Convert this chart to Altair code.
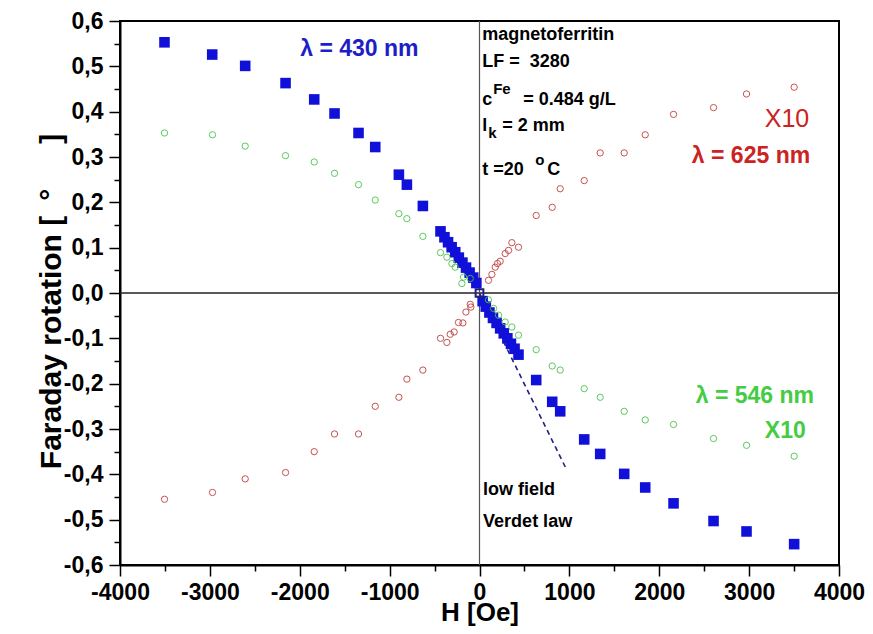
import altair as alt
import pandas as pd

# ---- data ----
# lambda = 430 nm (blue squares)
blue_h = [-3505, -2974, -2607, -2158, -1839, -1613, -1346, -1160, -897, -808, -630,
          -434, -390, -350, -310, -270, -230, -190, -150, -110, -70, -35,
          35, 70, 110, 150, 190, 230, 270, 310, 350, 390, 434,
          631, 809, 898, 1165, 1343, 1610, 1844, 2159, 2604, 2971, 3501]
blue_rot = [0.553, 0.526, 0.501, 0.463, 0.427, 0.396, 0.353, 0.322, 0.261, 0.239, 0.192,
            0.136, 0.123, 0.112, 0.101, 0.090, 0.078, 0.067, 0.056, 0.045, 0.034, 0.022,
            -0.018, -0.030, -0.043, -0.055, -0.066, -0.078, -0.089, -0.100, -0.112, -0.123, -0.136,
            -0.192, -0.240, -0.261, -0.323, -0.355, -0.399, -0.429, -0.464, -0.503, -0.526, -0.554]

# lambda = 546 nm (green circles, x10)
green_h = [-3505, -2971, -2607, -2158, -1839, -1613, -1346, -1160, -897, -808, -630,
           -434, -363, -307, -270, -196, -178, -103,
           100, 157, 212, 286, 360, 434,
           631, 809, 898, 1165, 1343, 1610, 1844, 2159, 2604, 2971, 3501]
green_rot = [0.353, 0.349, 0.324, 0.303, 0.289, 0.264, 0.239, 0.205, 0.175, 0.164, 0.125,
             0.089, 0.079, 0.065, 0.057, 0.021, 0.035, 0.032,
             -0.015, -0.034, -0.049, -0.064, -0.075, -0.093,
             -0.125, -0.161, -0.170, -0.211, -0.230, -0.261, -0.280, -0.290, -0.321, -0.336, -0.360]

# lambda = 625 nm (red circles, x10)
red_h = [-3505, -2971, -2607, -2158, -1839, -1613, -1346, -1160, -897, -808, -630,
         -434, -363, -326, -282, -234, -185, -151, -103, -96,
         100, 138, 175, 200, 230, 286, 323, 360, 434,
         631, 809, 898, 1165, 1343, 1610, 1844, 2159, 2604, 2971, 3501]
red_rot = [-0.455, -0.440, -0.410, -0.396, -0.350, -0.311, -0.311, -0.250, -0.230, -0.190, -0.170,
           -0.100, -0.109, -0.091, -0.086, -0.065, -0.066, -0.042, -0.025, -0.031,
           0.028, 0.041, 0.057, 0.065, 0.070, 0.087, 0.094, 0.111, 0.101,
           0.171, 0.189, 0.230, 0.248, 0.309, 0.309, 0.349, 0.394, 0.409, 0.439, 0.454]

origin_h = [0]
origin_rot = [0]

# low-field Verdet law (dashed line)
verdet_h = [0, 970]
verdet_rot = [0.0, -0.390]

x_ticks = [-4000 + 500 * i for i in range(17)]
y_ticks = [round(-0.6 + 0.05 * i, 2) for i in range(25)]

FONT = "Liberation Sans"

xscale = alt.Scale(domain=[-4000, 4000], nice=False, zero=False)
yscale = alt.Scale(domain=[-0.6, 0.6], nice=False, zero=False)

xaxis = alt.Axis(
    values=x_ticks, title="H [Oe]", grid=False,
    labelExpr="datum.value % 1000 === 0 ? replace(format(datum.value, 'd'), '\u2212', '-') : ''",
    tickSize={"condition": {"test": "datum.value % 1000 === 0", "value": 11}, "value": 6},
    labelFont=FONT, labelFontSize=23, labelFontWeight="bold", labelColor="black",
    labelPadding=5, labelFlush=False, labelOverlap=False,
    titleFont=FONT, titleFontSize=26, titleFontWeight="bold", titleColor="black",
    titleBaseline="alphabetic", titleY=55,
    domainColor="black", domainWidth=2, tickColor="black", tickWidth=1.5,
)
yaxis = alt.Axis(
    values=y_ticks, title="Faraday rotation [\u2002\u00b0\u2003\u2002]", grid=False,
    labelExpr="abs(round(datum.value*20)) % 2 === 0 ? replace(replace(format(datum.value, '.1f'), '.', ','), '\u2212', '-') : ''",
    tickSize={"condition": {"test": "abs(round(datum.value*20)) % 2 === 0", "value": 11}, "value": 6},
    labelFont=FONT, labelFontSize=23, labelFontWeight="bold", labelColor="black",
    labelPadding=6, labelFlush=False, labelOverlap=False,
    titleFont=FONT, titleFontSize=30, titleFontWeight="bold", titleColor="black",
    titleBaseline="alphabetic", titleX=-60, titleY=280,
    domainColor="black", domainWidth=2, tickColor="black", tickWidth=1.5,
)


def X():
    return alt.X("h:Q", scale=xscale, axis=xaxis)


def Y():
    return alt.Y("rot:Q", scale=yscale, axis=yaxis)


blue_df = pd.DataFrame({"h": blue_h, "rot": blue_rot})
green_df = pd.DataFrame({"h": green_h, "rot": green_rot})
red_df = pd.DataFrame({"h": red_h, "rot": red_rot})
origin_df = pd.DataFrame({"h": origin_h, "rot": origin_rot})
verdet_df = pd.DataFrame({"h": verdet_h, "rot": verdet_rot})

zero_h = alt.Chart(pd.DataFrame({"rot": [0]})).mark_rule(color="#222222", strokeWidth=1.5).encode(
    y=Y())
zero_v = alt.Chart(pd.DataFrame({"h": [0]})).mark_rule(color="#555555", strokeWidth=1.2).encode(
    x=X())

blue = alt.Chart(blue_df).mark_square(size=112, color="#1010d8", opacity=1).encode(x=X(), y=Y())
green = alt.Chart(green_df).mark_point(shape="circle", filled=False, size=40, strokeWidth=1,
                                       color="#4cc44c", opacity=0.9).encode(x=X(), y=Y())
red = alt.Chart(red_df).mark_point(shape="circle", filled=False, size=40, strokeWidth=1,
                                   color="#c04040", opacity=0.9).encode(x=X(), y=Y())
origin = alt.Chart(origin_df).mark_point(shape="square", filled=False, size=60, strokeWidth=2,
                                         color="#202080", opacity=1).encode(x=X(), y=Y())
verdet = alt.Chart(verdet_df).mark_line(color="#202080", strokeWidth=1.6,
                                        strokeDash=[5, 4]).encode(x=X(), y=Y())

# ---- annotations ----
def label(texts, hs, rots, color, size, weight="bold", align="left"):
    df = pd.DataFrame({"t": texts, "h": hs, "rot": rots})
    return alt.Chart(df).mark_text(
        font=FONT, fontSize=size, fontWeight=weight, color=color,
        align=align, baseline="alphabetic"
    ).encode(x=X(), y=Y(), text="t:N")


info_main = label(["magnetoferritin", "LF =\u00a0 3280", "c", "= 0.484 g/L", "l", "= 2 mm", "t =20", "C"],
                  [30, 30, 30, 486, 30, 253, 30, 753],
                  [0.5588, 0.4993, 0.4156, 0.4156, 0.3584, 0.3584, 0.2593, 0.2593],
                  "black", 18)
info_small = label(["Fe", "k", "o"],
                   [152, 97, 620],
                   [0.4379, 0.3430, 0.2813],
                   "black", 15)
lab430 = label(["\u03bb = 430 nm"], [-1995], [0.5236], "#1e1ec8", 23)
lab625 = label(["\u03bb = 625 nm"], [3679], [0.2857], "#cc2222", 23, align="right")
x10red = label(["X10"], [3669], [0.3656], "#cc2222", 25, weight="normal", align="right")
lab546 = label(["\u03bb = 546 nm"], [3722], [-0.2436], "#44cc44", 23, align="right")
x10green = label(["X10"], [3630], [-0.3194], "#44cc44", 23, align="right")
verdet_lab = label(["low field", "Verdet law"], [40, 40], [-0.4459, -0.5168], "black", 18)

chart = alt.layer(
    zero_h, zero_v, verdet, blue, green, red, origin,
    info_main, info_small, lab430, lab625, x10red, lab546, x10green, verdet_lab
).properties(
    width=719, height=544,
    autosize=alt.AutoSizeParams(type="none"),
    padding={"left": 112, "top": 13, "right": 26, "bottom": 61},
    background="white",
).configure_view(
    stroke="black", strokeWidth=2
)

chart.save("out.html", embed_options={"renderer": "svg", "actions": False})
